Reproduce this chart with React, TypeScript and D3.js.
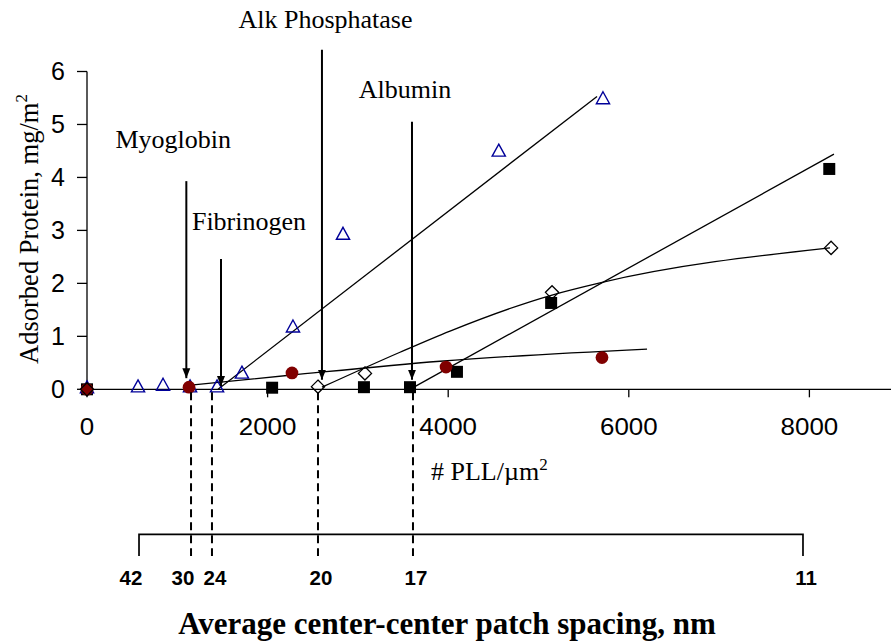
import React from "react";
import * as d3 from "d3";

// ---- data ----
const triangles: [number, number][] = [
  [0, 0.03], [565, 0.05], [842, 0.08], [1141, 0.05], [1440, 0.05],
  [1716, 0.31], [2281, 1.18], [2835, 2.93], [4560, 4.5], [5714, 5.49],
];
const squares: [number, number][] = [
  [0, 0], [2050, 0.03], [3067, 0.04], [3577, 0.04], [4097, 0.33], [5140, 1.63], [8220, 4.16],
];
const diamonds: [number, number][] = [
  [0, 0], [2558, 0.05], [3078, 0.3], [5150, 1.83], [8240, 2.67],
];
const circles: [number, number][] = [
  [0, 0], [1130, 0.04], [2270, 0.31], [3976, 0.42], [5703, 0.6],
];

// trend lines
const triangleTrend: [number, number][] = [[1451, 0], [5648, 5.53]];
const squareTrend: [number, number][] = [[3640, 0.06], [8272, 4.44]];
const diamondTrend: [number, number][] = [
  [2602, 0.04], [3466, 0.7], [4020, 1.1], [5150, 1.78], [5681, 2.01], [8228, 2.67],
];
const circleTrend: [number, number][] = [[1150, 0.08], [2270, 0.27], [3909, 0.53], [6202, 0.76]];

// protein onset annotations
const proteinNames = ["Myoglobin", "Fibrinogen", "Alk Phosphatase", "Albumin"];
const arrowX = [1100, 1484, 2602, 3599];
const arrowTop = [3.93, 2.46, 6.41, 5.05];
const arrowTip = [0.21, 0.06, 0.18, 0.18];
const labelX = [955, 1794, 2641, 3521];
const labelY = [4.55, 3.0, 6.82, 5.5];

// dashed onset lines
const onsetPLL = [1152, 1384, 2558, 3610];

// secondary axis (patch spacing)
const spacingLabels = ["42", "30", "24", "20", "17", "11"];
const spacingLabelPLL = [487, 1063, 1417, 2591, 3643, 7962];
const spacingAxisPLL = [576, 7929];

const xTicks = [0, 2000, 4000, 6000, 8000];
const yTicks = [0, 1, 2, 3, 4, 5, 6];

const W = 891;
const H = 643;

export default function App() {
  const x = d3.scaleLinear().domain([0, 8000]).range([87, 809.4]);
  const y = d3.scaleLinear().domain([0, 6]).range([389.3, 71.5]);

  const line = d3.line<[number, number]>().x((d) => x(d[0])).y((d) => y(d[1]));
  const curve = d3
    .line<[number, number]>()
    .x((d) => x(d[0]))
    .y((d) => y(d[1]))
    .curve(d3.curveMonotoneX);

  const serif = "'Liberation Serif', 'Times New Roman', serif";
  const sans = "'Liberation Sans', Arial, sans-serif";

  const triPath = "M0,-6.8 L6.6,5.2 L-6.6,5.2 Z";
  const squarePath = d3.symbol(d3.symbolSquare, 144)() as string;
  const diamondPath = "M0,-6.6 L6.6,0 L0,6.6 L-6.6,0 Z";
  const circlePath = d3.symbol(d3.symbolCircle, 127)() as string;

  const y0 = y(0);
  const bottomAxisY = 534.3;

  return (
    <svg
      width={W}
      height={H}
      style={{ position: "absolute", left: 0, top: 0, display: "block", background: "#fff" }}
    >
      <defs>
        <marker
          id="arr"
          markerUnits="userSpaceOnUse"
          markerWidth={10}
          markerHeight={10}
          viewBox="0 0 10 8"
          refX={10}
          refY={4}
          orient="auto"
        >
          <path d="M0,0 L10,4 L0,8 Z" fill="#000" />
        </marker>
      </defs>

      {/* Y axis */}
      <line x1={x(0)} x2={x(0)} y1={y(6)} y2={y0} stroke="#000" strokeWidth={1.3} />
      {yTicks.map((t) => (
        <g key={"yt" + t}>
          <line x1={x(0) - 10} x2={x(0)} y1={y(t)} y2={y(t)} stroke="#000" strokeWidth={1.3} />
          <text
            x={65}
            y={y(t) + 8.5}
            textAnchor="end"
            fontFamily={sans}
            fontSize={25}
            fill="#000"
          >
            {t}
          </text>
        </g>
      ))}

      {/* X axis */}
      <line x1={x(0)} x2={W} y1={y0} y2={y0} stroke="#000" strokeWidth={1.3} />
      {xTicks.map((t) => (
        <g key={"xt" + t}>
          <line x1={x(t)} x2={x(t)} y1={y0} y2={y0 + 8} stroke="#000" strokeWidth={1.3} />
          <text
            x={x(t)}
            y={435.5}
            textAnchor="middle"
            fontFamily={sans}
            fontSize={24}
            fill="#000"
            transform={`translate(${x(t)},0) scale(1.08,1) translate(${-x(t)},0)`}
          >
            {t}
          </text>
        </g>
      ))}

      {/* axis titles */}
      <text
        transform={`translate(38,229) rotate(-90)`}
        textAnchor="middle"
        fontFamily={serif}
        fontSize={26.5}
        fill="#000"
      >
        Adsorbed Protein, mg/m
        <tspan dy={-11} fontSize={17}>
          2
        </tspan>
      </text>
      <text x={431} y={480} fontFamily={serif} fontSize={26} fill="#000">
        # PLL/µm
        <tspan dy={-10} fontSize={17}>
          2
        </tspan>
      </text>

      {/* trend lines */}
      <path d={line(triangleTrend) as string} fill="none" stroke="#000" strokeWidth={1.3} />
      <path d={line(squareTrend) as string} fill="none" stroke="#000" strokeWidth={1.3} />
      <path d={curve(diamondTrend) as string} fill="none" stroke="#000" strokeWidth={1.3} />
      <path d={curve(circleTrend) as string} fill="none" stroke="#000" strokeWidth={1.3} />

      {/* markers */}
      {squares.map((d, i) => (
        <path key={"sq" + i} d={squarePath} transform={`translate(${x(d[0])},${y(d[1])})`} fill="#000" />
      ))}
      {triangles.map((d, i) => (
        <path
          key={"tr" + i}
          d={triPath}
          transform={`translate(${x(d[0])},${y(d[1])})`}
          fill="none"
          stroke="#000099"
          strokeWidth={1.4}
        />
      ))}
      {circles.map((d, i) => (
        <path key={"ci" + i} d={circlePath} transform={`translate(${x(d[0])},${y(d[1])})`} fill="#800000" />
      ))}
      {diamonds.map((d, i) => (
        <path
          key={"di" + i}
          d={diamondPath}
          transform={`translate(${x(d[0])},${y(d[1])})`}
          fill="none"
          stroke="#000"
          strokeWidth={1.3}
        />
      ))}

      {/* arrows and labels */}
      {proteinNames.map((n, i) => (
        <g key={"p" + i}>
          <line
            x1={x(arrowX[i])}
            x2={x(arrowX[i])}
            y1={y(arrowTop[i])}
            y2={y(arrowTip[i])}
            stroke="#000"
            strokeWidth={2}
            markerEnd="url(#arr)"
          />
          <text
            x={x(labelX[i])}
            y={y(labelY[i])}
            textAnchor="middle"
            fontFamily={serif}
            fontSize={26}
            fill="#000"
          >
            {n}
          </text>
        </g>
      ))}

      {/* dashed onset lines */}
      {onsetPLL.map((p, i) => (
        <line
          key={"dl" + i}
          x1={x(p)}
          x2={x(p)}
          y1={y0 + 3}
          y2={556}
          stroke="#000"
          strokeWidth={2}
          strokeDasharray="8,5"
        />
      ))}

      {/* secondary spacing axis */}
      <path
        d={`M${x(spacingAxisPLL[0])},556 V${bottomAxisY} H${x(spacingAxisPLL[1])} V556`}
        fill="none"
        stroke="#000"
        strokeWidth={1.7}
      />
      {spacingLabels.map((s, i) => (
        <text
          key={"sl" + i}
          x={x(spacingLabelPLL[i])}
          y={585}
          textAnchor="middle"
          fontFamily={sans}
          fontWeight="bold"
          fontSize={20.5}
          fill="#000"
        >
          {s}
        </text>
      ))}
      <text
        x={447}
        y={634}
        textAnchor="middle"
        fontFamily={serif}
        fontWeight="bold"
        fontSize={31}
        fill="#000"
      >
        Average center-center patch spacing, nm
      </text>
    </svg>
  );
}
